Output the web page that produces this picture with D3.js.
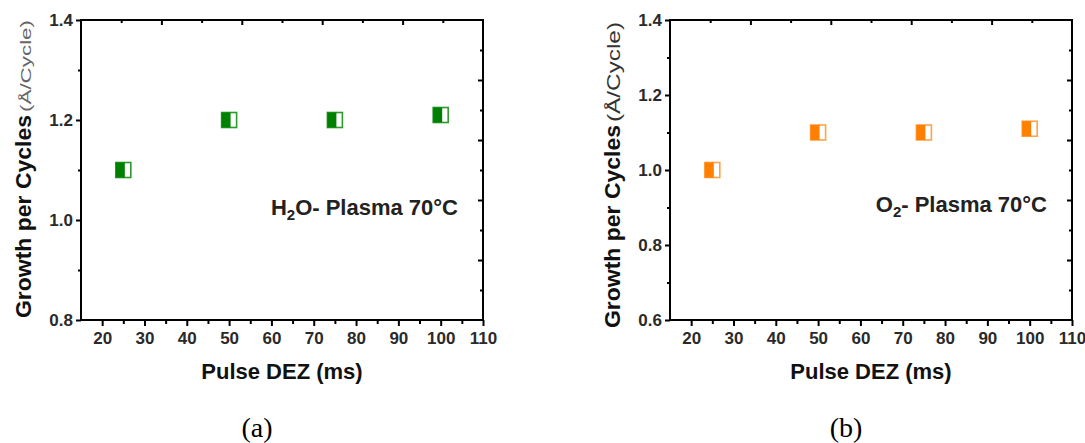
<!DOCTYPE html>
<html>
<head>
<meta charset="utf-8">
<script src="https://cdn.jsdelivr.net/npm/d3@7"></script>
<style>
  body { margin: 0; background: #fff; }
  svg { display: block; }
  .tick text { font-family: "Liberation Sans", Arial, sans-serif; font-weight: bold; font-size: 17px; fill: #2a2a2a; }
</style>
</head>
<body>
<svg id="chart" width="1085" height="443"></svg>
<script>
// pulse time of DEZ (ms)
const pulseDEZ = [25, 50, 75, 100];
// growth per cycle (A/cycle)
const gpcH2O = [1.10, 1.20, 1.20, 1.21];
const gpcO2 = [1.00, 1.10, 1.10, 1.11];
const xMajorTicks = [20, 30, 40, 50, 60, 70, 80, 90, 100, 110];
const yTicksA = [0.8, 1.0, 1.2, 1.4];
const yTicksB = [0.6, 0.8, 1.0, 1.2, 1.4];

const svg = d3.select("#chart");
const font = "'Liberation Sans', Arial, sans-serif";

function drawPanel(p) {
    const g = svg.append("g");
    const x = d3.scaleLinear().domain([15, 110]).range([p.left, p.left + 402]);
    const y = d3.scaleLinear().domain(p.yDomain).range([320, 20]);
    // top / right axes are plain 10-division tick rulers
    const xTop = d3.scaleLinear().domain([0, 10]).range([p.left, p.left + 402]);
    const yRight = d3.scaleLinear().domain([0, 10]).range([320, 20]);
    const right = p.left + 402;

    // bottom axis
    g.append("g").attr("transform", "translate(0,320)")
        .call(d3.axisBottom(x).tickValues(xMajorTicks).tickSize(6).tickPadding(6).tickFormat(d3.format("d")));
    g.append("g").attr("transform", "translate(0,320)")
        .call(d3.axisBottom(x).tickValues(d3.range(25, 110, 10)).tickSize(4).tickFormat(""));
    // left axis
    g.append("g").attr("transform", `translate(${p.left},0)`)
        .call(d3.axisLeft(y).tickValues(p.yTicks).tickSize(5).tickPadding(3).tickFormat(d3.format(".1f")));
    g.append("g").attr("transform", `translate(${p.left},0)`)
        .call(d3.axisLeft(y).tickValues(p.yMinor).tickSize(3).tickFormat(""));
    // top axis (ticks inward)
    g.append("g").attr("transform", "translate(0,20)")
        .call(d3.axisBottom(xTop).tickValues([1, 2, 3, 4, 5, 6, 7, 8, 9]).tickSize(0).tickFormat(""))
        .selectAll(".tick line").attr("y2", d => d % 2 === 0 ? 5 : 3);
    // right axis (ticks inward)
    g.append("g").attr("transform", `translate(${right},0)`)
        .call(d3.axisLeft(yRight).tickValues([1, 2, 3, 4, 5, 6, 7, 8, 9]).tickSize(0).tickFormat(""))
        .selectAll(".tick line").attr("x2", d => d % 2 === 0 ? -5 : -3);

    g.selectAll(".domain").remove();
    g.selectAll(".tick line").attr("stroke", "#000").attr("stroke-width", 2);

    // frame
    g.append("rect")
        .attr("x", p.left).attr("y", 20)
        .attr("width", 402).attr("height", 300)
        .attr("fill", "none").attr("stroke", "#000").attr("stroke-width", 2);

    // half-filled square markers
    const pts = pulseDEZ.map((d, i) => ({x: d, y: p.values[i]}));
    const m = g.selectAll("g.marker").data(pts).enter().append("g")
        .attr("class", "marker")
        .attr("transform", d => `translate(${x(d.x)},${y(d.y)})`);
    m.append("rect").attr("x", -7.5).attr("y", -7.5).attr("width", 15).attr("height", 15)
        .attr("fill", "#fff").attr("stroke", p.stroke).attr("stroke-width", 1.6);
    m.append("rect").attr("x", -7.5).attr("y", -7.5).attr("width", 9).attr("height", 15)
        .attr("fill", p.color);

    // axis titles
    g.append("text")
        .attr("x", (p.left + right) / 2).attr("y", 379)
        .attr("text-anchor", "middle")
        .attr("font-family", font).attr("font-weight", "bold").attr("font-size", 22).attr("fill", "#111")
        .text("Pulse DEZ (ms)");
    g.append("text")
        .attr("transform", `translate(${p.left - 50},${p.titleBottom}) rotate(-90)`)
        .attr("font-family", font).attr("font-weight", "bold").attr("font-size", 22).attr("fill", "#111")
        .attr("textLength", 203).attr("lengthAdjust", "spacingAndGlyphs")
        .text("Growth per Cycles");
    g.append("text")
        .attr("transform", `translate(${p.left - 50},${p.titleBottom - 206}) rotate(-90)`)
        .attr("font-family", font).attr("font-size", p.unitSize).attr("fill", p.unitColor)
        .attr("textLength", p.unitLength).attr("lengthAdjust", "spacingAndGlyphs")
        .text("(Å/Cycle)");

    // annotation
    const t = g.append("text")
        .attr("x", right - 25).attr("y", p.noteY)
        .attr("text-anchor", "end")
        .attr("font-family", font).attr("font-weight", "bold").attr("font-size", 22).attr("fill", "#222");
    t.append("tspan").text(p.note[0]);
    t.append("tspan").attr("font-size", 15).attr("dy", 5).text("2");
    t.append("tspan").attr("dy", -5).text(p.note[1]);

    // caption
    svg.append("text")
        .attr("x", (p.left + right) / 2 - 25).attr("y", 437)
        .attr("text-anchor", "middle")
        .attr("font-family", "'Liberation Serif', 'Times New Roman', serif").attr("font-size", 28).attr("fill", "#000")
        .text(p.caption);
}

drawPanel({
    left: 81, yDomain: [0.8, 1.4], yTicks: yTicksA, yMinor: [0.9, 1.1, 1.3],
    values: gpcH2O, color: "#008000", stroke: "#2e9a2e",
    titleBottom: 318, unitSize: 14, unitColor: "#666", unitLength: 92,
    note: ["H", "O- Plasma 70°C"], noteY: 215, caption: "(a)"
});
drawPanel({
    left: 670, yDomain: [0.6, 1.4], yTicks: yTicksB, yMinor: [0.7, 0.9, 1.1, 1.3],
    values: gpcO2, color: "#ff8000", stroke: "#ffa347",
    titleBottom: 328, unitSize: 18, unitColor: "#333", unitLength: 100,
    note: ["O", "- Plasma 70°C"], noteY: 212, caption: "(b)"
});
</script>
</body>
</html>
